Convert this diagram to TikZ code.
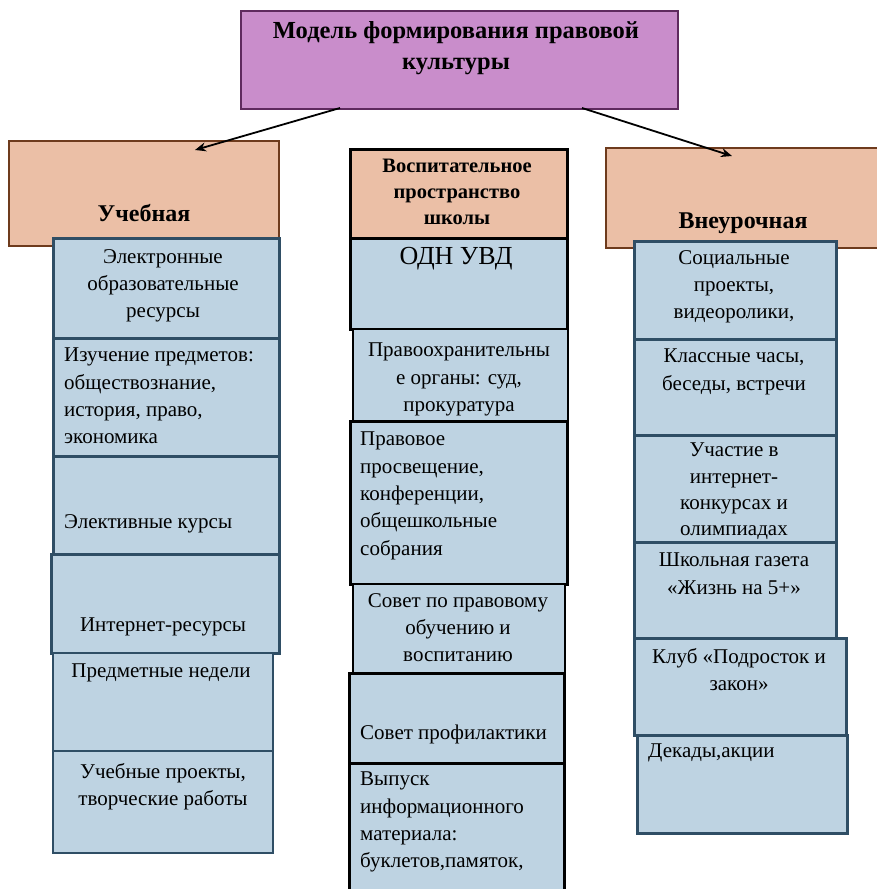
\documentclass[tikz,border=0pt]{standalone}
\usepackage{fontspec}
\setmainfont{Liberation Serif}
\usetikzlibrary{arrows.meta}
\definecolor{purfill}{HTML}{C98DCB}
\definecolor{purline}{HTML}{5E2A5E}
\definecolor{salfill}{HTML}{EBBFA6}
\definecolor{salline}{HTML}{6E3B1D}
\definecolor{bluefill}{HTML}{BED3E2}
\definecolor{blueline}{HTML}{2F4E65}
\newcommand{\fsbody}{\fontsize{21}{27.3}\selectfont}
\newcommand{\fstitle}{\fontsize{24.5}{31}\selectfont\bfseries}
\newcommand{\fshead}{\fontsize{24}{27}\selectfont\bfseries}
\newcommand{\fscent}{\fontsize{20.5}{26}\selectfont\bfseries}
\tikzset{
  boxbase/.style={rectangle, inner sep=0pt, anchor=north west},
  topbox/.style={boxbase, fill=purfill, draw=purline, line width=2pt},
  headbox/.style={boxbase, fill=salfill, draw=salline, line width=2.2pt},
  centhead/.style={boxbase, fill=salfill, draw=black, line width=2.6pt},
  bluebox/.style={boxbase, fill=bluefill, draw=blueline, line width=2.5pt},
  centbox/.style={boxbase, fill=bluefill, draw=black, line width=2.5pt},
  txt/.style={inner sep=0pt, font=\fsbody, text=black},
  ctext/.style={txt, align=center, anchor=north},
  ltext/.style={txt, align=left, anchor=north west},
  linkarrow/.style={-{Stealth[length=11pt,width=9pt]}, line width=1.8pt, black},
}
\begin{document}
\begin{tikzpicture}[x=1pt,y=-1pt]
\useasboundingbox (0,0) rectangle (876,889);
% top box
\node[topbox, minimum width=437pt, minimum height=98pt] (top) at (240,10) {};
\node[inner sep=0pt, align=center, anchor=north, font=\fstitle] (toptext) at (456,21) {Модель формирования правовой\\культуры};
% headers
\node[headbox, minimum width=270pt, minimum height=105pt] (hleft) at (8,140) {};
\node[inner sep=0pt, anchor=base, font=\fshead] (hlefttext) at (144,221) {Учебная};
\node[headbox, minimum width=280pt, minimum height=100pt] (hright) at (605,147) {};
\node[inner sep=0pt, anchor=base, font=\fshead] (hrighttext) at (743,228) {Внеурочная};
\node[centhead, minimum width=217pt, minimum height=89pt] (hcent) at (349,148) {};
\node[inner sep=0pt, align=center, anchor=north, font=\fscent] (hcenttext) at (457,159) {Воспитательное\\пространство\\школы};
% arrows
\coordinate (a1s) at (340,108);
\coordinate (a1e) at (195,150);
\coordinate (a2s) at (582,108);
\coordinate (a2e) at (732,156);
\draw[linkarrow] (a1s) -- (a1e);
\draw[linkarrow] (a2s) -- (a2e);
% left column
\node[bluebox, minimum width=226pt, minimum height=100pt] (l1) at (52,237) {};
\node[bluebox, minimum width=226pt, minimum height=118pt] (l2) at (52,337) {};
\node[bluebox, minimum width=226pt, minimum height=98pt] (l3) at (52,455) {};
\node[bluebox, minimum width=228pt, minimum height=99pt] (l4) at (50,553) {};
\node[bluebox, minimum width=220pt, minimum height=98pt, line width=1.8pt] (l5) at (52,652) {};
\node[bluebox, minimum width=220pt, minimum height=102pt, line width=1.8pt] (l6) at (52,750) {};
\node[ctext] (l1t) at (163,249) {Электронные\\образовательные\\ресурсы};
\node[ltext] (l2t) at (64,348) {Изучение предметов:\\обществознание,\\история, право,\\экономика};
\node[ltext] (l3t) at (64,514) {Элективные курсы};
\node[ctext] (l4t) at (163,618) {Интернет-ресурсы};
\node[ctext] (l5t) at (161,664) {Предметные недели};
\node[ctext] (l6t) at (163,763) {Учебные проекты,\\творческие работы};
% center column
\node[centbox, minimum width=217pt, minimum height=91pt] (c1) at (349,237) {};
\node[centbox, minimum width=215pt, minimum height=92pt, line width=2pt] (c2) at (352,328) {};
\node[centbox, minimum width=217pt, minimum height=163pt] (c3) at (349,420) {};
\node[centbox, minimum width=212pt, minimum height=89pt, line width=1.6pt] (c4) at (352,583) {};
\node[centbox, minimum width=215pt, minimum height=90pt] (c5) at (348,672) {};
\node[centbox, minimum width=215pt, minimum height=140pt] (c6) at (348,762) {};
\node[inner sep=0pt, anchor=north, font=\fontsize{26}{30}\selectfont] (c1t) at (456,247) {ОДН УВД};
\node[ctext] (c2t) at (459,343) {Правоохранительны\\е органы: суд,\\прокуратура};
\node[ltext] (c3t) at (360,432) {Правовое\\просвещение,\\конференции,\\общешкольные\\собрания};
\node[ctext] (c4t) at (458,593) {Совет по правовому\\обучению и\\воспитанию};
\node[ltext] (c5t) at (360,725) {Совет профилактики};
\node[ltext] (c6t) at (360,772) {Выпуск\\информационного\\материала:\\буклетов,памяток,};
% right column
\node[bluebox, minimum width=202pt, minimum height=98pt] (r1) at (633,240) {};
\node[bluebox, minimum width=202pt, minimum height=96pt] (r2) at (633,338) {};
\node[bluebox, minimum width=202pt, minimum height=107pt] (r3) at (633,434) {};
\node[bluebox, minimum width=202pt, minimum height=96pt] (r4) at (633,541) {};
\node[bluebox, minimum width=212pt, minimum height=97pt] (r5) at (633,637) {};
\node[bluebox, minimum width=210pt, minimum height=98pt] (r6) at (636,734) {};
\node[ctext] (r1t) at (734,250) {Социальные\\проекты,\\видеоролики,};
\node[ctext] (r2t) at (734,349) {Классные часы,\\беседы, встречи};
\node[ctext, font=\fontsize{21}{26.2}\selectfont] (r3t) at (734,443) {Участие в\\интернет-\\конкурсах и\\олимпиадах};
\node[ctext] (r4t) at (734,553) {Школьная газета\\«Жизнь на 5+»};
\node[ctext] (r5t) at (739,648) {Клуб «Подросток и\\закон»};
\node[ltext] (r6t) at (648,744) {Декады,акции};
\end{tikzpicture}
\end{document}
